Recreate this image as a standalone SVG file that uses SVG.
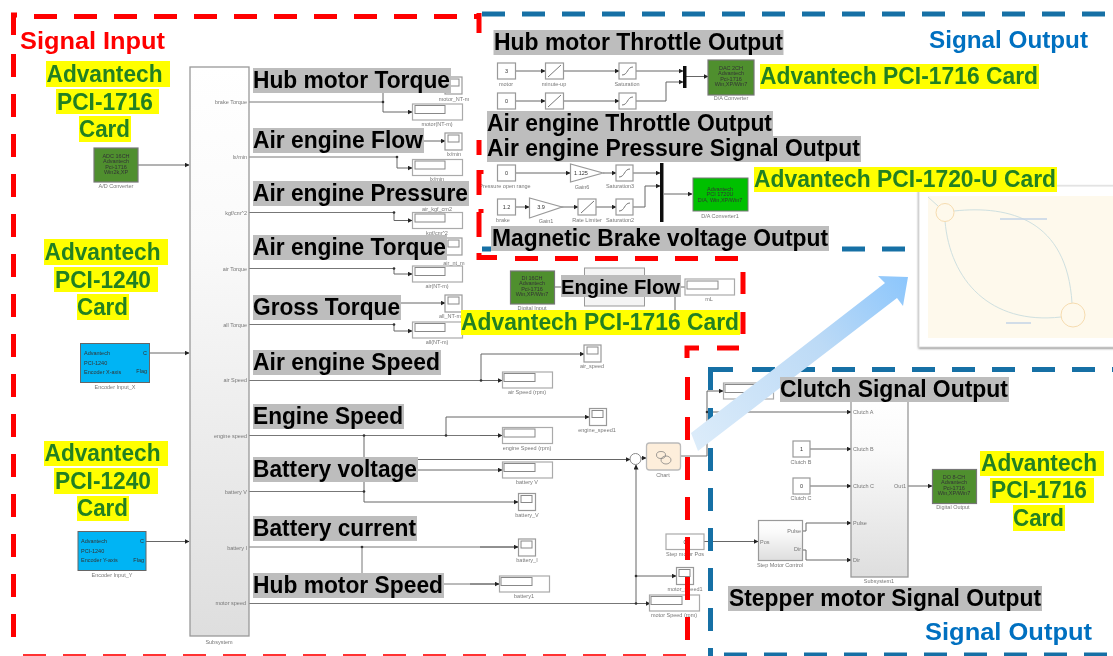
<svg xmlns="http://www.w3.org/2000/svg" width="1113" height="656" viewBox="0 0 1113 656">
<style>
text{font-family:"Liberation Sans",Arial,sans-serif}
.w{fill:#fff;stroke:#999;stroke-width:1.2}
.b{fill:#fff;stroke:#aaa;stroke-width:1.2}
.in{fill:#fff;stroke:#888;stroke-width:1}
.green{fill:#4f8f2e;stroke:#777;stroke-width:1.2}
.cy{fill:#00b4f4;stroke:#666;stroke-width:1}
.c{fill:none;stroke:#666;stroke-width:1}
.e{fill:none;stroke:#777;stroke-width:1}
.d{fill:#333}
.t{font-size:5.5px;fill:#777;text-anchor:middle}
.r{font-size:5.5px;fill:#777;text-anchor:end}
.l{font-size:5.5px;fill:#777}
.ct{font-size:5.5px;fill:#333}
.cte{font-size:5.5px;fill:#333;text-anchor:end}
.k{font-size:5.5px;fill:#333;text-anchor:middle}
.rd{fill:none;stroke:#f00;stroke-width:5;stroke-dasharray:23 17}
.bl{fill:none;stroke:#1270a5;stroke-width:5;stroke-dasharray:23 17}
.sol{fill:none;stroke:#f00;stroke-width:5}
.sob{fill:none;stroke:#1270a5;stroke-width:5}
.g{fill:#bdbdbd}
.y{fill:#ff0}
.lab{font-size:23px;font-weight:700;fill:#000}
.ad{font-size:23px;font-weight:700;fill:#238023}
</style>
<defs>
<marker id="a" markerWidth="5" markerHeight="5" refX="4.500" refY="2.500" orient="auto" markerUnits="userSpaceOnUse"><path d="M0 0L5 2.500L0 5z" fill="#222"/></marker>
<linearGradient id="sg" x1="0" y1="0" x2="0" y2="1"><stop offset="0" stop-color="#fff"/><stop offset=".3" stop-color="#fafafa"/><stop offset="1" stop-color="#dedede"/></linearGradient>
<linearGradient id="ag" gradientUnits="userSpaceOnUse" x1="693" y1="445" x2="908" y2="278"><stop offset="0" stop-color="#dcecfa"/><stop offset=".6" stop-color="#bcdaf6"/><stop offset="1" stop-color="#8cc6fc"/></linearGradient>
<filter id="bl" filterUnits="userSpaceOnUse" x="0" y="0" width="1113" height="656"><feGaussianBlur stdDeviation="0.6"/></filter>
<filter id="sh" x="-5%" y="-5%" width="110%" height="110%"><feDropShadow dx="0" dy="1" stdDeviation="1" flood-color="#777"/></filter>
</defs>
<rect width="1113" height="656" fill="#fff"/>
<g filter="url(#bl)">
<g id="connectors">
<path class="c" marker-end="url(#a)" d="M138 165H189"/>
<path class="c" marker-end="url(#a)" d="M149 353H189"/>
<path class="c" marker-end="url(#a)" d="M146 541.500H189"/>
<path class="e" d="M249 102H383"/><path class="c" marker-end="url(#a)" d="M383 102V112H412"/>
<path class="c" d="M383 102V86H450"/>
<path class="e" d="M249 157H397"/><path class="c" marker-end="url(#a)" d="M397 157V168H412"/>
<path class="c" marker-end="url(#a)" d="M424 141H445"/>
<path class="e" d="M249 212.500H394"/><path class="c" marker-end="url(#a)" d="M394 212.500V220.500H412"/>
<path class="e" d="M249 268.500H394"/><path class="c" marker-end="url(#a)" d="M394 268.500V274H412"/>
<path class="e" d="M249 324.500H394"/><path class="c" marker-end="url(#a)" d="M394 324.500V331H412"/>
<path class="c" marker-end="url(#a)" d="M401 303H445"/>
<path class="e" d="M249 380.500H481"/><path class="c" marker-end="url(#a)" d="M481 380.500H502"/><path class="c" marker-end="url(#a)" d="M481 380.500V354H584"/>
<path class="e" d="M249 435.500H502"/><path class="c" marker-end="url(#a)" d="M480 435.500H502"/>
<path class="c" marker-end="url(#a)" d="M446 435.500V417H589"/>
<path class="c" marker-end="url(#a)" d="M364 435.500V459.500H630"/>
<path class="e" d="M249 491.500H364"/><path class="c" d="M364 491.500V460"/>
<path class="c" marker-end="url(#a)" d="M364 470H502"/>
<path class="c" marker-end="url(#a)" d="M364 491.500V502H518"/>
<path class="e" d="M249 547H518"/><path class="c" marker-end="url(#a)" d="M480 547H518"/>
<path class="e" d="M362 547V584H499"/><path class="c" marker-end="url(#a)" d="M470 584H499"/>
<path class="e" d="M249 603.500H650"/><path class="c" marker-end="url(#a)" d="M630 603.500H650"/>
<path class="c" marker-end="url(#a)" d="M636 603.500V465"/>
<path class="c" marker-end="url(#a)" d="M636 576H676"/>
<path class="c" marker-end="url(#a)" d="M641 458H646"/>
<path class="e" d="M680 456H707"/>
<path class="c" marker-end="url(#a)" d="M707 456V391H723"/>
<path class="c" marker-end="url(#a)" d="M707 412H851"/>
<path class="c" marker-end="url(#a)" d="M810 449H851"/>
<path class="c" marker-end="url(#a)" d="M810 486H851"/>
<path class="c" marker-end="url(#a)" d="M908 486H932"/>
<path class="c" marker-end="url(#a)" d="M704 541.500H758"/>
<path class="c" marker-end="url(#a)" d="M802 531H806V523H851"/>
<path class="c" marker-end="url(#a)" d="M802 550H806V560H851"/>
<path class="c" marker-end="url(#a)" d="M515 71H545"/><path class="c" marker-end="url(#a)" d="M563 71H619"/><path class="c" marker-end="url(#a)" d="M636 71H683"/>
<path class="c" marker-end="url(#a)" d="M515 101H545"/><path class="c" marker-end="url(#a)" d="M563 101H619"/><path class="c" marker-end="url(#a)" d="M636 101H666V82H683"/>
<path class="c" marker-end="url(#a)" d="M686 76.500H708"/>
<path class="c" marker-end="url(#a)" d="M515 173H570"/><path class="c" marker-end="url(#a)" d="M603 173H616"/><path class="c" marker-end="url(#a)" d="M633 173H660"/>
<path class="c" marker-end="url(#a)" d="M515 207H529"/><path class="c" marker-end="url(#a)" d="M561 207H578"/><path class="c" marker-end="url(#a)" d="M596 207H616"/>
<path class="c" marker-end="url(#a)" d="M633 207H645V186H660"/>
<path class="c" marker-end="url(#a)" d="M664 194H692"/>
<path class="c" d="M554 287H561M681 287H685M675 297V310"/>
<circle class="d" cx="383" cy="102" r="1.300"/><circle class="d" cx="397" cy="157" r="1.300"/><circle class="d" cx="394" cy="212.500" r="1.300"/><circle class="d" cx="394" cy="268.500" r="1.300"/><circle class="d" cx="394" cy="324.500" r="1.300"/><circle class="d" cx="481" cy="380.500" r="1.300"/><circle class="d" cx="364" cy="435.500" r="1.300"/><circle class="d" cx="446" cy="435.500" r="1.300"/><circle class="d" cx="364" cy="491.500" r="1.300"/><circle class="d" cx="362" cy="547" r="1.300"/><circle class="d" cx="636" cy="576" r="1.300"/><circle class="d" cx="636" cy="603.500" r="1.300"/><circle class="d" cx="707" cy="412" r="1.300"/>
</g>
<g id="subsystem"><rect x="190" y="67" width="59" height="569" fill="url(#sg)" stroke="#999" stroke-width="1.300"/>
<text class="r" x="247" y="104">brake Torque</text><text class="r" x="247" y="159">lx/min</text><text class="r" x="247" y="215">kgf/cm^2</text><text class="r" x="247" y="271">air Torque</text><text class="r" x="247" y="327">all Torque</text><text class="r" x="247" y="382">air Speed</text><text class="r" x="247" y="438">engine speed</text><text class="r" x="247" y="494">battery V</text><text class="r" x="247" y="550">battery I</text><text class="r" x="246" y="605">motor speed</text><text class="t" x="219" y="644">Subsystem</text></g>
<g id="ad"><rect class="green" x="94" y="148" width="44" height="34"/><text class="k" x="116" y="158">ADC 16CH</text><text class="k" x="116" y="163">Advantech</text><text class="k" x="116" y="169">Pci-1716</text><text class="k" x="116" y="174">Win2k,XP</text><text class="t" x="116" y="188">A/D Converter</text></g>
<g id="encx"><rect class="cy" x="80.500" y="343.500" width="69" height="39"/><text class="ct" x="84" y="355">Advantech</text><text class="ct" x="84" y="365">PCI-1240</text><text class="ct" x="84" y="374">Encoder X-axis</text><text class="cte" x="147" y="355">C</text><text class="cte" x="147" y="373">Flag</text><text class="t" x="115" y="389">Encoder Input_X</text></g>
<g id="ency"><rect class="cy" x="78" y="531.500" width="68" height="39"/><text class="ct" x="81" y="543">Advantech</text><text class="ct" x="81" y="553">PCI-1240</text><text class="ct" x="81" y="562">Encoder Y-axis</text><text class="cte" x="144" y="543">C</text><text class="cte" x="144" y="562">Flag</text><text class="t" x="112" y="577">Encoder Input_Y</text></g>
<g id="displays">
<g id="d1"><rect class="b" x="412.500" y="104" width="50" height="16"/><rect class="in" x="415" y="105.500" width="30" height="8"/><text class="t" x="437" y="126">motor(NT-m)</text></g>
<g id="d2"><rect class="b" x="412.500" y="159.500" width="50" height="16"/><rect class="in" x="415" y="161" width="30" height="8"/><text class="t" x="437" y="181">lx/min</text></g>
<g id="d3"><rect class="b" x="412.500" y="212.500" width="50" height="16"/><rect class="in" x="415" y="214" width="30" height="8"/><text class="t" x="437" y="235">kgf/cm^2</text></g>
<g id="d4"><rect class="b" x="412.500" y="266" width="50" height="16"/><rect class="in" x="415" y="267.500" width="30" height="8"/><text class="t" x="437" y="288">air(NT-m)</text></g>
<g id="d5"><rect class="b" x="412.500" y="322" width="50" height="16"/><rect class="in" x="415" y="323.500" width="30" height="8"/><text class="t" x="437" y="344">all(NT-m)</text></g>
<g id="d6"><rect class="b" x="502.500" y="372" width="50" height="16"/><rect class="in" x="504" y="373.500" width="31" height="8"/><text class="t" x="527" y="394">air Speed (rpm)</text></g>
<g id="d7"><rect class="b" x="502.500" y="427.500" width="50" height="16"/><rect class="in" x="504" y="429" width="31" height="8"/><text class="t" x="527" y="450">engine Speed (rpm)</text></g>
<g id="d8"><rect class="b" x="502.500" y="462" width="50" height="16"/><rect class="in" x="504" y="463.500" width="31" height="8"/><text class="t" x="527" y="484">battery V</text></g>
<g id="d9"><rect class="b" x="499.500" y="576" width="50" height="16"/><rect class="in" x="501" y="577.500" width="31" height="8"/><text class="t" x="524" y="598">battery1</text></g>
<g id="d10"><rect class="b" x="649.500" y="595" width="50" height="16"/><rect class="in" x="651" y="596.500" width="31" height="8"/><text class="t" x="674" y="617">motor Speed (rpm)</text></g>
<g id="d11"><rect class="b" x="723.500" y="383" width="50" height="16"/><rect class="in" x="725" y="384.500" width="31" height="8"/></g>
<g id="d12"><rect class="b" x="685" y="279" width="49.500" height="16"/><rect class="in" x="687" y="281" width="31" height="8"/><text class="t" x="709" y="301">mL</text></g>
<g id="d13"><rect class="b" x="666" y="534" width="38" height="15.500"/><text class="k" x="685" y="544">0</text><text class="t" x="685" y="556">Step motor Pos</text></g>
</g>
<g id="scopes">
<g id="s1"><rect class="w" x="445" y="77" width="17" height="17"/><rect class="in" x="448" y="79" width="11" height="7"/><text class="t" x="454" y="101">motor_NT-m</text></g>
<g id="s2"><rect class="w" x="445" y="133" width="17" height="17"/><rect class="in" x="448" y="135" width="11" height="7"/><text class="t" x="454" y="156">lx/min</text></g>
<g id="s3"><rect class="w" x="445" y="238" width="17" height="17"/><rect class="in" x="448" y="240" width="11" height="7"/><text class="t" x="454" y="265">air_nt_m</text></g>
<g id="s4"><rect class="w" x="445" y="295" width="17" height="17"/><rect class="in" x="448" y="297" width="11" height="7"/><text class="t" x="450" y="318">all_NT-m</text></g>
<g id="s5"><rect class="w" x="584" y="345" width="17" height="17"/><rect class="in" x="587" y="347" width="11" height="7"/><text class="t" x="592" y="368">air_speed</text></g>
<g id="s6"><rect class="w" x="589.500" y="408.500" width="17" height="17"/><rect class="in" x="592" y="410.500" width="11" height="7"/><text class="t" x="597" y="432">engine_speed1</text></g>
<g id="s7"><rect class="w" x="518.500" y="493.500" width="17" height="17"/><rect class="in" x="521" y="495.500" width="11" height="7"/><text class="t" x="527" y="517">battery_V</text></g>
<g id="s8"><rect class="w" x="518.500" y="539" width="17" height="17"/><rect class="in" x="521" y="541" width="11" height="7"/><text class="t" x="527" y="562">battery_I</text></g>
<g id="s9"><rect class="w" x="676.500" y="567.500" width="17" height="17"/><rect class="in" x="679" y="569.500" width="11" height="7"/><text class="t" x="685" y="591">motor_speed1</text></g>
<text class="t" x="437" y="211">air_kgf_cm2</text>
</g>
<g id="sum"><circle cx="635.500" cy="459" r="5.500" fill="#fff" stroke="#888"/></g>
<g id="chart"><rect x="646.500" y="443" width="34" height="27" rx="3" fill="#fdeedb" stroke="#bbb" stroke-width="1.300"/><ellipse cx="661" cy="455" rx="4.500" ry="3.500" fill="none" stroke="#777" stroke-width=".7"/><ellipse cx="666" cy="460" rx="5" ry="4" fill="none" stroke="#777" stroke-width=".7"/><text class="t" x="663" y="477">Chart</text></g>
<g id="rowA">
<rect class="w" x="497.500" y="63" width="18" height="16"/><text class="k" x="506.500" y="73">3</text><text class="t" x="506" y="86">motor</text>
<rect class="w" x="545.500" y="63" width="18" height="16"/><path class="e" d="M548 77L561 65"/><text class="t" x="554" y="86">minute-up</text>
<rect class="w" x="619" y="63" width="17" height="16"/><path class="e" d="M622 75C628 75 627 67 633 67"/><text class="t" x="627" y="86">Saturation</text>
<rect class="w" x="497.500" y="93" width="18" height="16"/><text class="k" x="506.500" y="103">0</text>
<rect class="w" x="545.500" y="93" width="18" height="16"/><path class="e" d="M548 107L561 95"/>
<rect class="w" x="619" y="93" width="17" height="16"/><path class="e" d="M622 105C628 105 627 97 633 97"/>
<rect x="683" y="66" width="3.500" height="22" fill="#111"/>
<rect class="green" x="708" y="60" width="46" height="35"/><text class="k" x="731" y="70">DAC 2CH</text><text class="k" x="731" y="75">Advantech</text><text class="k" x="731" y="81">Pci-1716</text><text class="k" x="731" y="86">Win,XP/Win7</text><text class="t" x="731" y="100">D/A Converter</text>
</g>
<g id="rowB">
<rect class="w" x="497.500" y="165" width="18" height="16"/><text class="k" x="506.500" y="175">0</text><text class="t" x="505" y="188">Pressure open range</text>
<path class="w" d="M570.500 164V182L603 173z"/><text class="k" x="581" y="175">1.125</text><text class="t" x="582" y="189">Gain6</text>
<rect class="w" x="616" y="165" width="17" height="16"/><path class="e" d="M619 177C625 177 624 169 630 169"/><text class="t" x="620" y="188">Saturation3</text>
<rect class="w" x="497.500" y="199" width="18" height="16"/><text class="k" x="506.500" y="209">1.2</text><text class="t" x="503" y="222">brake</text>
<path class="w" d="M529.500 198V218L562 207z"/><text class="k" x="541" y="209">3.9</text><text class="t" x="546" y="223">Gain1</text>
<rect class="w" x="578" y="199" width="18" height="16"/><path class="e" d="M581 213L594 201"/><text class="t" x="587" y="222">Rate Limiter</text>
<rect class="w" x="616" y="199" width="17" height="16"/><path class="e" d="M619 211C625 211 624 203 630 203"/><text class="t" x="620" y="222">Saturation2</text>
<rect x="660" y="163" width="3.500" height="59" fill="#111"/>
<rect x="693" y="178" width="55" height="33" fill="#00c000" stroke="#777"/><text class="k" x="720" y="191">Advantech</text><text class="k" x="720" y="196">PCI 1720U</text><text class="k" x="720" y="202">D/A, Win,XP/Win7</text><text class="t" x="720" y="218">D/A Converter1</text>
</g>
<g id="dinput"><rect class="green" x="510.500" y="271" width="44" height="33"/><text class="k" x="532" y="280">DI 16CH</text><text class="k" x="532" y="285">Advantech</text><text class="k" x="532" y="291">Pci-1716</text><text class="k" x="532" y="296">Win,XP/Win7</text><text class="t" x="532" y="310">Digital Input</text>
<rect x="584.500" y="268" width="60" height="38" fill="#f4f4f4" stroke="#999"/></g>
<g id="sub1"><rect x="851" y="395" width="57" height="182" fill="url(#sg)" stroke="#999" stroke-width="1.300"/>
<text class="l" x="853" y="414">Clutch A</text><text class="l" x="853" y="451">Clutch B</text><text class="l" x="853" y="488">Clutch C</text><text class="l" x="853" y="525">Pulse</text><text class="l" x="853" y="562">Dir</text><text class="r" x="906" y="488">Out1</text><text class="t" x="879" y="583">Subsystem1</text></g>
<g id="clutchconst"><rect class="w" x="793" y="441" width="17" height="16"/><text class="k" x="801.500" y="451">1</text><text class="t" x="801" y="464">Clutch B</text>
<rect class="w" x="793" y="478" width="17" height="16"/><text class="k" x="801.500" y="488">0</text><text class="t" x="801" y="500">Clutch C</text></g>
<g id="step"><rect x="758.500" y="520.500" width="44" height="40" fill="url(#sg)" stroke="#999" stroke-width="1.200"/><text class="l" x="760" y="544">Pos</text><text class="r" x="801" y="533">Pulse</text><text class="r" x="801" y="551">Dir</text><text class="t" x="780" y="567">Step Motor Control</text></g>
<g id="dout"><rect class="green" x="932.500" y="469.500" width="44" height="34"/><text class="k" x="954" y="479">DO 8-CH</text><text class="k" x="954" y="484">Advantech</text><text class="k" x="954" y="490">Pci-1716</text><text class="k" x="954" y="495">Win,XP/Win7</text><text class="t" x="953" y="509">Digital Output</text></g>
<g id="frames">
<path class="rd" d="M34 16.500H478"/>
<path class="sol" d="M13.500 35V15H17"/>
<path class="rd" d="M13.500 54V648"/>
<path class="rd" d="M23 656.500H690" style="stroke:#f33"/>
<path class="sol" d="M479 13V33M479 140V155M479 170V195M479 212V237M479 253V257.500H497"/>
<path class="rd" d="M515 258.500H740"/>
<path class="sol" d="M743 272V294M743 312V334"/>
<path class="sol" d="M739 348H717M699 348H687V358"/>
<path class="rd" d="M687.500 377V640"/>
<path class="sol" d="M481 170V174M481 209V213"/>
<path class="bl" d="M482 14H1113"/>
<path class="sob" d="M482 249H491M842 249H865M882 249H905"/>
<path class="bl" d="M752 369.500H1113"/>
<path class="sob" d="M733 369.500H710.500V390"/>
<path class="bl" d="M710.500 408V656"/>
<path class="bl" d="M721 655H1113" stroke-dashoffset="-3"/>
</g>
<g id="arrow"><polygon points="691,433 885,283 878,276 908,277 903,306 897,298 698,451" fill="url(#ag)"/></g>
<g id="window"><rect x="919" y="186" width="200" height="161" fill="#fff" stroke="#ddd" filter="url(#sh)"/><rect x="928" y="196" width="190" height="142" fill="#fef9ec"/>
<path d="M928 197L938 206M954 211C1010 205 1067 220 1072 303M945 221C950 280 990 325 1061 317" fill="none" stroke="#cfe0e0" stroke-width="1"/>
<circle cx="945" cy="212.500" r="9" fill="none" stroke="#f6dcb0" stroke-width="1"/><circle cx="1073" cy="315" r="12" fill="none" stroke="#f6dcb0" stroke-width="1"/>
<path d="M1000 219H1047M1006 323H1031" fill="none" stroke="#c3d3e6" stroke-width="1.500"/></g>
<g id="labels">
<rect class="g" x="253" y="68" width="198" height="25"/><text class="lab" x="253" y="88" textLength="197" lengthAdjust="spacingAndGlyphs">Hub motor Torque</text>
<rect class="g" x="253" y="128" width="171" height="25"/><text class="lab" x="253" y="148" textLength="170" lengthAdjust="spacingAndGlyphs">Air engine Flow</text>
<rect class="g" x="253" y="181" width="216" height="25"/><text class="lab" x="253" y="201" textLength="215" lengthAdjust="spacingAndGlyphs">Air engine Pressure</text>
<rect class="g" x="253" y="235" width="194" height="25"/><text class="lab" x="253" y="255" textLength="193" lengthAdjust="spacingAndGlyphs">Air engine Torque</text>
<rect class="g" x="253" y="295" width="148" height="25"/><text class="lab" x="253" y="315" textLength="147" lengthAdjust="spacingAndGlyphs">Gross Torque</text>
<rect class="g" x="253" y="350" width="188" height="25"/><text class="lab" x="253" y="370" textLength="187" lengthAdjust="spacingAndGlyphs">Air engine Speed</text>
<rect class="g" x="253" y="404" width="151" height="25"/><text class="lab" x="253" y="424" textLength="150" lengthAdjust="spacingAndGlyphs">Engine Speed</text>
<rect class="g" x="253" y="457" width="165" height="25"/><text class="lab" x="253" y="477" textLength="164" lengthAdjust="spacingAndGlyphs">Battery voltage</text>
<rect class="g" x="253" y="516" width="164" height="25"/><text class="lab" x="253" y="536" textLength="163" lengthAdjust="spacingAndGlyphs">Battery current</text>
<rect class="g" x="253" y="573" width="191" height="25"/><text class="lab" x="253" y="593" textLength="190" lengthAdjust="spacingAndGlyphs">Hub motor Speed</text>
<rect class="g" x="493.500" y="30" width="290" height="25"/><text class="lab" x="494" y="50" textLength="289" lengthAdjust="spacingAndGlyphs">Hub motor Throttle Output</text>
<rect class="g" x="487" y="111" width="286" height="25"/><text class="lab" x="487" y="131" textLength="285" lengthAdjust="spacingAndGlyphs">Air engine Throttle Output</text>
<rect class="g" x="487" y="136" width="374" height="26"/><text class="lab" x="487" y="156" textLength="373" lengthAdjust="spacingAndGlyphs">Air engine Pressure Signal Output</text>
<rect class="g" x="491" y="226" width="338" height="25"/><text class="lab" x="492" y="246" textLength="336" lengthAdjust="spacingAndGlyphs">Magnetic Brake voltage Output</text>
<rect class="g" x="561" y="275" width="120" height="22"/><text class="lab" x="561" y="294" textLength="119" lengthAdjust="spacingAndGlyphs" style="font-size:20px">Engine Flow</text>
<rect class="g" x="780" y="377" width="229" height="25"/><text class="lab" x="780" y="397" textLength="228" lengthAdjust="spacingAndGlyphs">Clutch Signal Output</text>
<rect class="g" x="728" y="586" width="314" height="25"/><text class="lab" x="729" y="606" textLength="312" lengthAdjust="spacingAndGlyphs">Stepper motor Signal Output</text>
</g>
<g id="cards">
<rect class="y" x="46" y="61" width="124" height="26"/><text class="ad" x="46.500" y="82" textLength="116" lengthAdjust="spacingAndGlyphs">Advantech</text>
<rect class="y" x="56" y="89" width="103" height="25"/><text class="ad" x="57" y="110" textLength="96" lengthAdjust="spacingAndGlyphs">PCI-1716</text>
<rect class="y" x="79" y="116" width="52" height="26"/><text class="ad" x="79" y="137" textLength="51" lengthAdjust="spacingAndGlyphs">Card</text>
<rect class="y" x="44" y="239" width="124" height="26"/><text class="ad" x="44.500" y="260" textLength="116" lengthAdjust="spacingAndGlyphs">Advantech</text>
<rect class="y" x="54" y="267" width="104" height="25"/><text class="ad" x="55" y="288" textLength="96" lengthAdjust="spacingAndGlyphs">PCI-1240</text>
<rect class="y" x="77" y="294" width="52" height="26"/><text class="ad" x="77" y="315" textLength="51" lengthAdjust="spacingAndGlyphs">Card</text>
<rect class="y" x="44" y="441" width="124" height="25"/><text class="ad" x="44.500" y="461" textLength="116" lengthAdjust="spacingAndGlyphs">Advantech</text>
<rect class="y" x="54" y="468" width="104" height="26"/><text class="ad" x="55" y="489" textLength="96" lengthAdjust="spacingAndGlyphs">PCI-1240</text>
<rect class="y" x="77" y="496" width="52" height="25"/><text class="ad" x="77" y="516" textLength="51" lengthAdjust="spacingAndGlyphs">Card</text>
<rect class="y" x="760" y="64" width="279" height="25"/><text class="ad" x="760" y="84" textLength="278" lengthAdjust="spacingAndGlyphs">Advantech PCI-1716 Card</text>
<rect class="y" x="754" y="167" width="303" height="25"/><text class="ad" x="754" y="187" textLength="302" lengthAdjust="spacingAndGlyphs">Advantech PCI-1720-U Card</text>
<rect class="y" x="461" y="310" width="279" height="25"/><text class="ad" x="461" y="330" textLength="278" lengthAdjust="spacingAndGlyphs">Advantech PCI-1716 Card</text>
<rect class="y" x="980" y="451" width="124" height="25"/><text class="ad" x="981" y="471" textLength="116" lengthAdjust="spacingAndGlyphs">Advantech</text>
<rect class="y" x="990" y="478" width="104" height="25"/><text class="ad" x="991" y="498" textLength="96" lengthAdjust="spacingAndGlyphs">PCI-1716</text>
<rect class="y" x="1013" y="505" width="52" height="26"/><text class="ad" x="1013" y="526" textLength="51" lengthAdjust="spacingAndGlyphs">Card</text>
</g>
<g id="titles">
<text x="20" y="49" font-size="23" font-weight="700" fill="#f00" textLength="145" lengthAdjust="spacingAndGlyphs">Signal Input</text>
<text x="929" y="48" font-size="23" font-weight="700" fill="#0070c0" textLength="159" lengthAdjust="spacingAndGlyphs">Signal Output</text>
<text x="925" y="640" font-size="23" font-weight="700" fill="#0070c0" textLength="167" lengthAdjust="spacingAndGlyphs">Signal Output</text>
</g>
</g>
</svg>
